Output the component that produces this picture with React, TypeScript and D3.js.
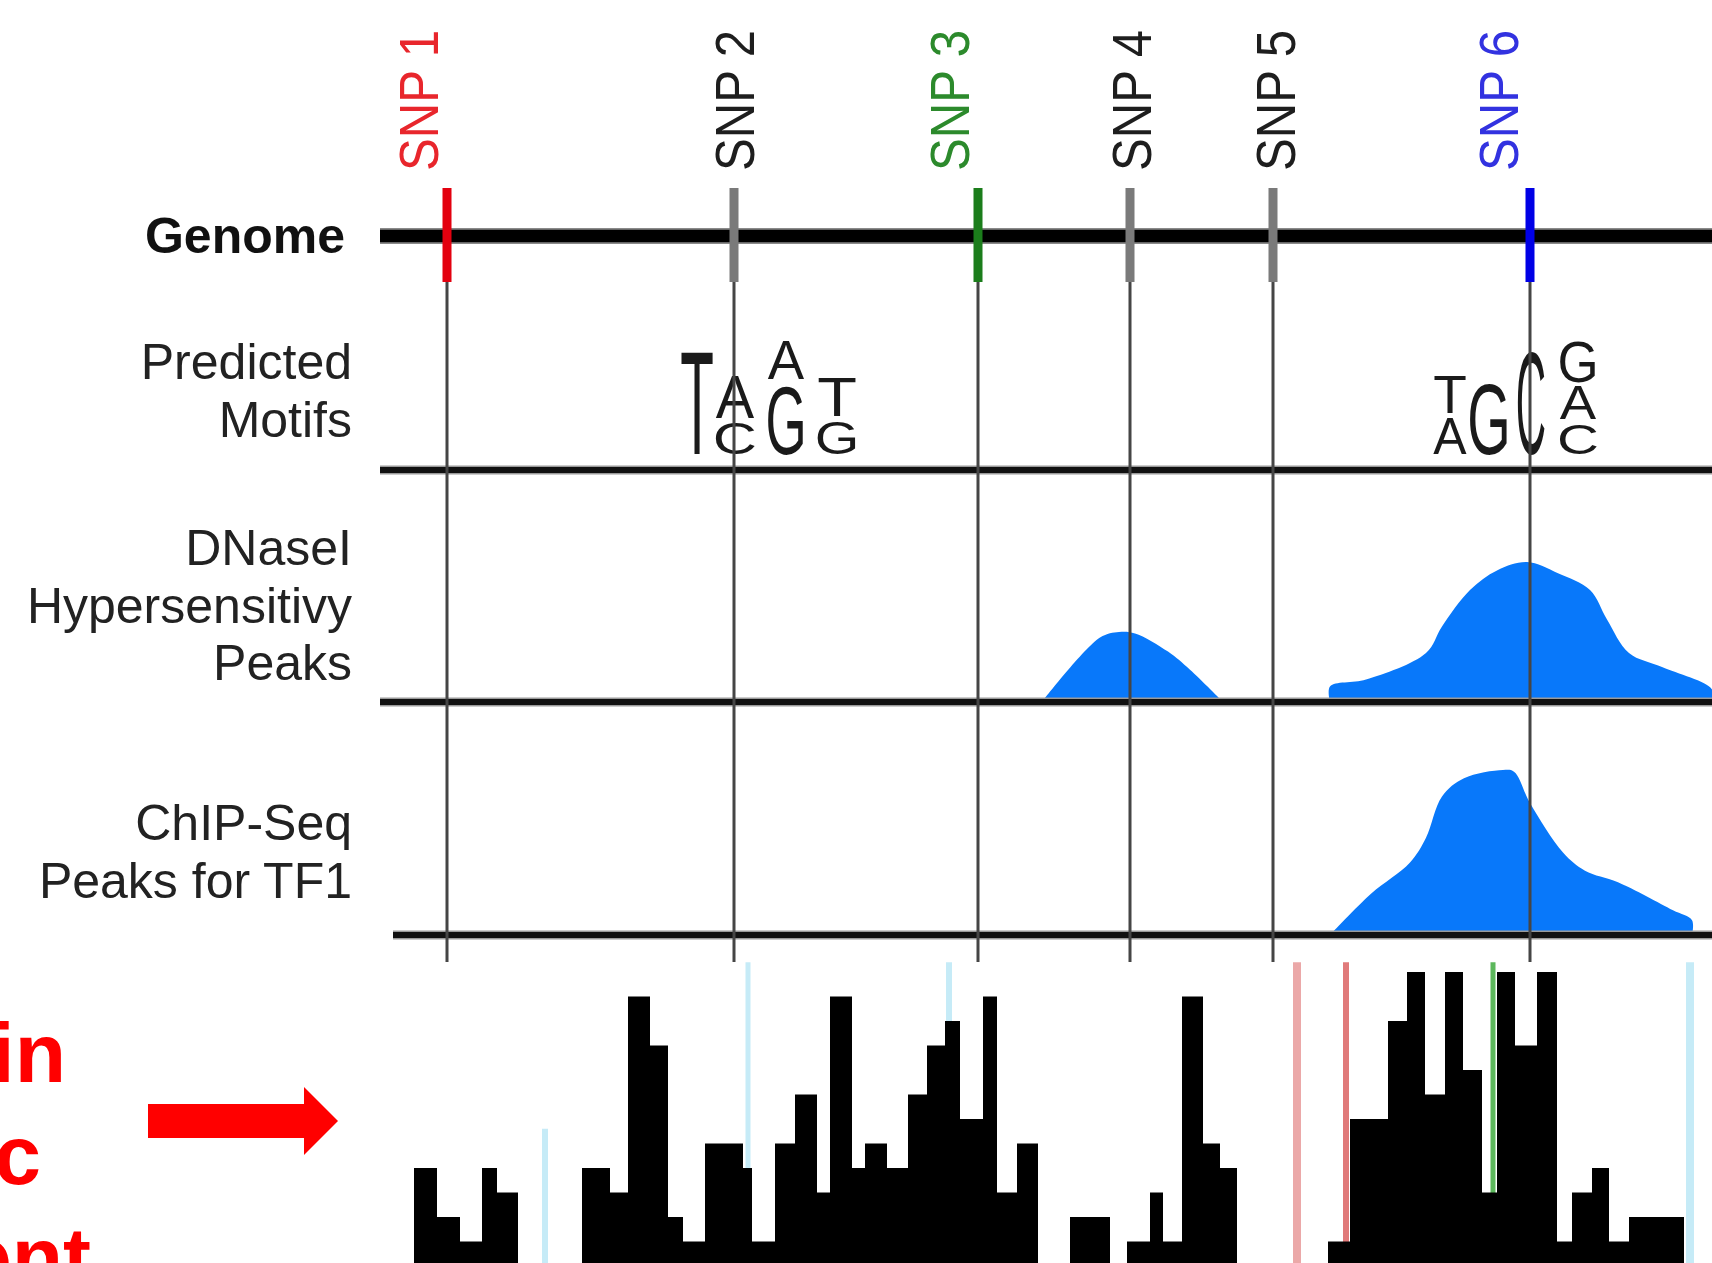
import React from "react";
import * as d3 from "d3";

// genome positions are in arbitrary units along the locus
const snpNames = ["SNP 1", "SNP 2", "SNP 3", "SNP 4", "SNP 5", "SNP 6"];
const snpPositions = [16.75, 88.5, 149.5, 187.5, 223.25, 287.5];

const trackLabels = [
  ["Predicted", "Motifs"],
  ["DNaseI", "Hypersensitivy", "Peaks"],
  ["ChIP-Seq", "Peaks for TF1"],
];

// sequence logo columns: position, width, letters stacked bottom->top with height in bits
const motif1Columns = [
  { pos: 79.25, width: 8.25, stack: [["T", 1.83]] },
  { pos: 88.75, width: 9.5, stack: [["C", 0.6], ["A", 0.79]] },
  { pos: 101.5, width: 9, stack: [["G", 1.27], ["A", 0.73]] },
  { pos: 114.25, width: 9.75, stack: [["G", 0.63], ["T", 0.73]] },
];
const motif2Columns = [
  { pos: 267.5, width: 8.25, stack: [["A", 0.68], ["T", 0.71]] },
  { pos: 277.25, width: 9.5, stack: [["G", 1.3]] },
  { pos: 287.75, width: 6.5, stack: [["C", 1.87]] },
  { pos: 299.5, width: 9, stack: [["C", 0.58], ["A", 0.64], ["G", 0.78]] },
];

// DNaseI signal [position, signal]
const dnasePeak1 = [[165.5, 0], [180, 46], [184.75, 50], [188.75, 49], [197, 36], [202.5, 23], [210.75, 0]];
const dnasePeak2 = [[237.5, 0], [237.5, 11], [246.5, 16], [261.5, 35], [265.5, 54], [272.5, 80], [279.25, 94],
  [286.75, 100], [294.5, 92], [302.5, 80], [306.75, 59], [312.25, 35], [320.5, 25], [333, 9], [333, 0]];
// ChIP-seq signal [position, signal]
const chipPeak = [[237.5, 0], [247.75, 25], [257.5, 44], [261.5, 59], [265.5, 84], [271, 95], [280.75, 100],
  [283.5, 99], [287.5, 80], [295.75, 50], [301.25, 39], [309.5, 32], [323.25, 15], [328, 9], [328, 0]];

// read-depth histogram: bin edges and counts
const histEdges = [8.5, 14.25, 20, 25.5, 29.25, 34.5, 50.5, 57.5, 62, 67.5, 72, 75.75, 81.25, 90.75, 93, 98.75,
  103.75, 109.25, 112.5, 118, 121.25, 126.75, 132, 136.75, 141.25, 145, 150.75, 154.25, 159.25, 164.5, 172.5,
  182.5, 186.75, 192.5, 195.75, 200.5, 205.75, 210, 214.25, 237, 242.5, 252, 256.75, 261.25, 266.25, 270.75,
  275.5, 279.25, 283.75, 289.25, 294.25, 298, 303, 307.25, 312.25, 326];
const histCounts = [4, 2, 1, 4, 3, 0, 4, 3, 11, 9, 2, 1, 5, 4, 1, 5, 7, 3, 11, 4, 5, 4, 7, 9, 10, 6, 11, 3, 5, 0,
  2, 0, 1, 3, 1, 11, 5, 4, 0, 1, 6, 10, 12, 7, 12, 8, 3, 12, 9, 12, 1, 3, 4, 1, 2];

const histMarkerPos = [41.25, 92, 142.25, 229.25, 241.5, 278.25, 327.5];
const histMarkerTop = [5.6, 12.4, 12.4, 12.4, 12.4, 12.4, 12.4];

const snpTickColors = ["#e3000f", "#7a7a7a", "#1b7d1b", "#7a7a7a", "#7a7a7a", "#0000e6"];
const snpTextColors = ["#e8262c", "#1e1e1e", "#2c8a2c", "#1e1e1e", "#1e1e1e", "#3232e0"];
const snpLabelDx = [-9, 20, -9, 21, 22, -12];
const markerColors = ["#c6ebf7", "#c6ebf7", "#c6ebf7", "#eba8a8", "#e07a7a", "#5cb85c", "#c6ebf7"];
const markerWidths = [6, 5, 6, 8, 6, 5, 8];

const FONT = "'Liberation Sans', Arial, sans-serif";
const W = 1712, H = 1263;
const genomeY = 236, motifY = 470, dnaseY = 702, chipY = 935, histTop = 962;

const glyphInk = { A: 0.66, C: 0.62, G: 0.68, T: 0.6 };

const Letter = ({ ch, cx, w, yBottom, h }) => {
  const capH = ch === "C" || ch === "G" ? 0.74 : 0.716;
  const sx = w / (glyphInk[ch] * 100);
  const sy = h / (capH * 100);
  return (
    <text transform={`translate(${cx},${yBottom}) scale(${sx},${sy})`} textAnchor="middle"
      fontSize={100} fontFamily={FONT} fill="#1a1a1a">{ch}</text>
  );
};

const App = () => {
  const x = d3.scaleLinear().domain([0, 333]).range([380, W]);
  const bits = d3.scaleLinear().domain([0, 2]).range([455, 337]);
  const dnaseY0 = d3.scaleLinear().domain([0, 100]).range([dnaseY, 562]);
  const chipY0 = d3.scaleLinear().domain([0, 100]).range([chipY, 770]);
  const histY = d3.scaleLinear().domain([0, 12]).range([1266, 972]);

  const dnaseArea = d3.area().x(d => x(d[0])).y0(dnaseY).y1(d => dnaseY0(d[1]))
    .curve(d3.curveCatmullRom.alpha(0.5));
  const chipArea = d3.area().x(d => x(d[0])).y0(chipY).y1(d => chipY0(d[1]))
    .curve(d3.curveCatmullRom.alpha(0.5));

  const logo = (cols, key) => cols.map((c, i) => {
    let acc = 0;
    return c.stack.map(([ch, b], j) => {
      const bottom = bits(acc);
      acc += b;
      const top = bits(acc);
      return <Letter key={`${key}-${i}-${j}`} ch={ch} cx={x(c.pos)} w={x(c.width) - x(0)}
        yBottom={bottom - 1.5} h={bottom - top - 3} />;
    });
  });

  return (
    <svg width={W} height={H} style={{ position: "absolute", left: 0, top: 0, background: "#fff" }}>
      {/* histogram markers and bars */}
      {histMarkerPos.map((p, i) => (
        <line key={"m" + i} x1={x(p)} x2={x(p)} y1={histY(histMarkerTop[i])} y2={H}
          stroke={markerColors[i]} strokeWidth={markerWidths[i]} />
      ))}
      {histCounts.map((c, i) => c > 0 && (
        <rect key={"b" + i} x={x(histEdges[i])} width={x(histEdges[i + 1]) - x(histEdges[i])}
          y={histY(c)} height={histY(0) - histY(c)} fill="#000" />
      ))}

      {/* peaks */}
      <path d={dnaseArea(dnasePeak1)} fill="#0878fa" />
      <path d={dnaseArea(dnasePeak2)} fill="#0878fa" />
      <path d={chipArea(chipPeak)} fill="#0878fa" />

      {/* motifs */}
      {logo(motif1Columns, "m1")}
      {logo(motif2Columns, "m2")}

      {/* track baselines */}
      {[motifY, dnaseY].map(y => (
        <g key={y}>
          <line x1={380} x2={W} y1={y} y2={y} stroke="#9a9a9a" strokeWidth={9} />
          <line x1={380} x2={W} y1={y} y2={y} stroke="#111" strokeWidth={6} />
        </g>
      ))}
      <line x1={393} x2={W} y1={chipY} y2={chipY} stroke="#9a9a9a" strokeWidth={9} />
      <line x1={393} x2={W} y1={chipY} y2={chipY} stroke="#111" strokeWidth={6} />

      {/* SNP guide lines */}
      {snpPositions.map((p, i) => (
        <line key={"s" + i} x1={x(p)} x2={x(p)} y1={genomeY} y2={histTop} stroke="#454545" strokeWidth={3} />
      ))}

      {/* genome */}
      <line x1={380} x2={W} y1={genomeY} y2={genomeY} stroke="#8a8a8a" strokeWidth={16} />
      <line x1={380} x2={W} y1={genomeY} y2={genomeY} stroke="#000" strokeWidth={12.5} />
      {snpPositions.map((p, i) => (
        <rect key={"t" + i} x={x(p) - 4.5} width={9} y={188} height={94} fill={snpTickColors[i]} />
      ))}
      {snpNames.map((n, i) => (
        <text key={"l" + i} transform={`translate(${x(snpPositions[i]) + snpLabelDx[i]},171) rotate(-90)`}
          textAnchor="start" fontSize={55} fontFamily={FONT} fill={snpTextColors[i]}
          textLength={141} lengthAdjust="spacingAndGlyphs">{n}</text>
      ))}

      {/* left labels */}
      <text x={345} y={253} textAnchor="end" fontSize={50} fontWeight="bold" fontFamily={FONT} fill="#111">Genome</text>
      {trackLabels[0].map((t, i) => (
        <text key={t} x={352} y={379 + i * 58} textAnchor="end" fontSize={50} fontFamily={FONT} fill="#222">{t}</text>
      ))}
      {trackLabels[1].map((t, i) => (
        <text key={t} x={352} y={565 + i * 57.5} textAnchor="end" fontSize={50} fontFamily={FONT} fill="#222">{t}</text>
      ))}
      {trackLabels[2].map((t, i) => (
        <text key={t} x={352} y={840 + i * 58} textAnchor="end" fontSize={50} fontFamily={FONT} fill="#222">{t}</text>
      ))}

      {/* annotation cut off at the left edge */}
      <g fill="#ff0000" fontFamily={FONT} fontWeight="bold" fontSize={84} textAnchor="end">
        <text x={66} y={1082}>in</text>
        <text x={41} y={1184}>c</text>
        <text x={91} y={1286}>ent</text>
      </g>
      <path d="M148,1104 L304,1104 L304,1087 L338,1121 L304,1155 L304,1138 L148,1138 Z" fill="#ff0000" />
    </svg>
  );
};

export default App;
